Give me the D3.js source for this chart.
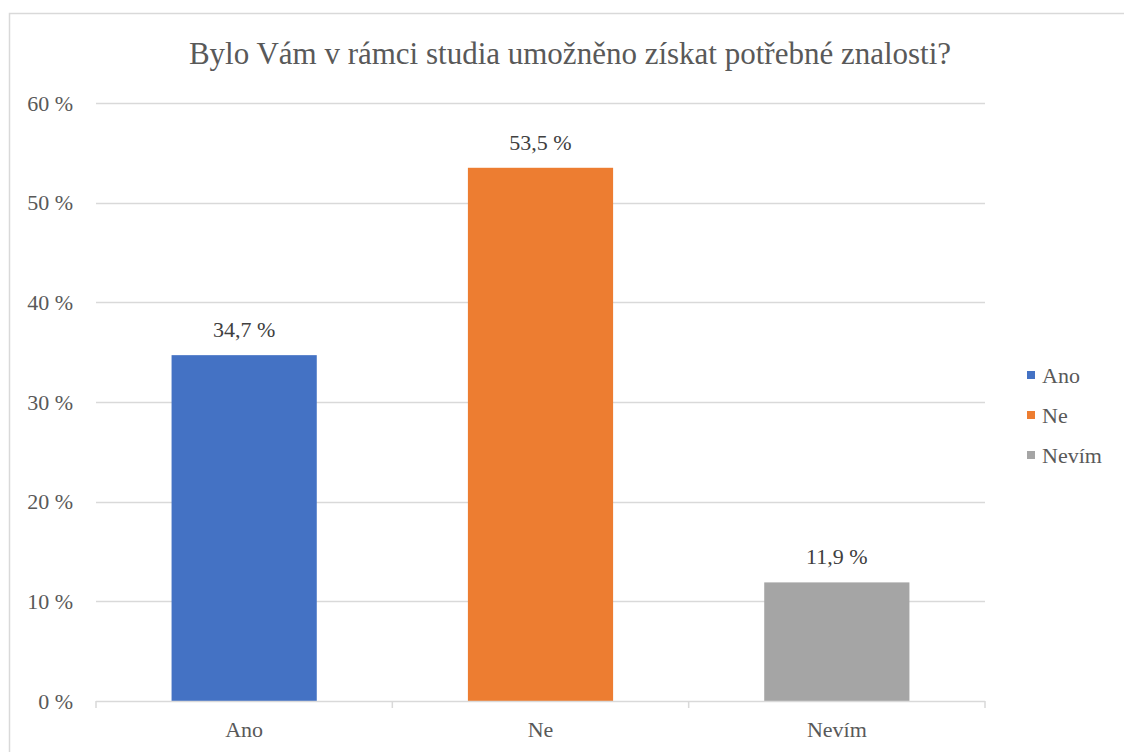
<!DOCTYPE html>
<html>
<head>
<meta charset="utf-8">
<script src="https://cdn.jsdelivr.net/npm/d3@7"></script>
</head>
<body style="margin:0; background:#fff">
<script>
// data
const categories = ['Ano', 'Ne', 'Nevím'];
const values = [34.7, 53.5, 11.9];
const colors = ['#4472c4', '#ed7d31', '#a5a5a5'];
const yTicks = [0, 10, 20, 30, 40, 50, 60];
const title = 'Bylo Vám v rámci studia umožněno získat potřebné znalosti?';

const FONT = "'Liberation Serif', Tinos, 'Noto Serif', 'DejaVu Serif'";
const W = 1124, H = 752;
const margin = {top: 103, right: 139, bottom: 51, left: 96};
const width = W - margin.left - margin.right;
const height = H - margin.top - margin.bottom;

const svg = d3.select('body').append('svg')
    .attr('width', W)
    .attr('height', H);

// chart border
svg.append('rect')
    .attr('x', 9.5).attr('y', 13.5)
    .attr('width', 1130).attr('height', 760)
    .attr('fill', 'none')
    .attr('stroke', '#d9d9d9')
    .attr('stroke-width', 1.5);

const g = svg.append('g')
    .attr('transform', `translate(${margin.left},${margin.top})`);

const x = d3.scaleBand()
    .domain(categories)
    .range([0, width])
    .paddingInner(0.51)
    .paddingOuter(0.255);

const y = d3.scaleLinear()
    .domain([0, 60])
    .range([height, 0]);

// gridlines
g.selectAll('line.grid')
    .data(yTicks.filter(d => d > 0))
    .enter().append('line')
    .attr('class', 'grid')
    .attr('x1', 0).attr('x2', width)
    .attr('y1', d => Math.round(y(d)) + 0.5)
    .attr('y2', d => Math.round(y(d)) + 0.5)
    .attr('stroke', '#d9d9d9')
    .attr('stroke-width', 1.5);

// y labels
g.selectAll('text.ytick')
    .data(yTicks)
    .enter().append('text')
    .attr('class', 'ytick')
    .attr('x', -23)
    .attr('y', d => y(d))
    .attr('dy', '0.35em')
    .attr('text-anchor', 'end')
    .attr('fill', '#595959')
    .attr('font-family', FONT)
    .attr('font-size', 22)
    .text(d => d + ' %');

// bars
g.selectAll('rect.bar')
    .data(values)
    .enter().append('rect')
    .attr('class', 'bar')
    .attr('x', (d, i) => x(categories[i]))
    .attr('y', d => y(d))
    .attr('width', x.bandwidth())
    .attr('height', d => height - y(d))
    .attr('fill', (d, i) => colors[i]);

// data labels
g.selectAll('text.val')
    .data(values)
    .enter().append('text')
    .attr('class', 'val')
    .attr('x', (d, i) => x(categories[i]) + x.bandwidth() / 2)
    .attr('y', d => y(d) - 18)
    .attr('text-anchor', 'middle')
    .attr('fill', '#404040')
    .attr('font-family', FONT)
    .attr('font-size', 22)
    .text(d => d.toFixed(1).replace('.', ',') + ' %');

// x axis
const step = x.step();
const axisG = g.append('g')
    .attr('transform', `translate(0,${height})`);
axisG.append('line')
    .attr('x1', 0).attr('x2', width)
    .attr('y1', 0.5).attr('y2', 0.5)
    .attr('stroke', '#d9d9d9')
    .attr('stroke-width', 1.5);
axisG.selectAll('line.tk')
    .data(d3.range(categories.length + 1))
    .enter().append('line')
    .attr('class', 'tk')
    .attr('x1', i => i * step).attr('x2', i => i * step)
    .attr('y1', 0).attr('y2', 7)
    .attr('stroke', '#d9d9d9')
    .attr('stroke-width', 1.5);
axisG.selectAll('text.xl')
    .data(categories)
    .enter().append('text')
    .attr('class', 'xl')
    .attr('x', d => x(d) + x.bandwidth() / 2)
    .attr('y', 36)
    .attr('text-anchor', 'middle')
    .attr('fill', '#595959')
    .attr('font-family', FONT)
    .attr('font-size', 22)
    .text(d => d);

// title
svg.append('text')
    .attr('x', 570)
    .attr('y', 64)
    .attr('text-anchor', 'middle')
    .attr('fill', '#595959')
    .attr('font-family', FONT)
    .attr('font-size', 31)
    .text(title);

// legend
const legend = svg.append('g')
    .attr('transform', 'translate(1027,375)');
const items = legend.selectAll('g')
    .data(categories)
    .enter().append('g')
    .attr('transform', (d, i) => `translate(0,${i * 40})`);
items.append('rect')
    .attr('x', 0).attr('y', -4)
    .attr('width', 8).attr('height', 8)
    .attr('fill', (d, i) => colors[i]);
items.append('text')
    .attr('x', 15)
    .attr('y', 0)
    .attr('dy', '0.35em')
    .attr('fill', '#595959')
    .attr('font-family', FONT)
    .attr('font-size', 22)
    .text(d => d);
</script>
</body>
</html>
